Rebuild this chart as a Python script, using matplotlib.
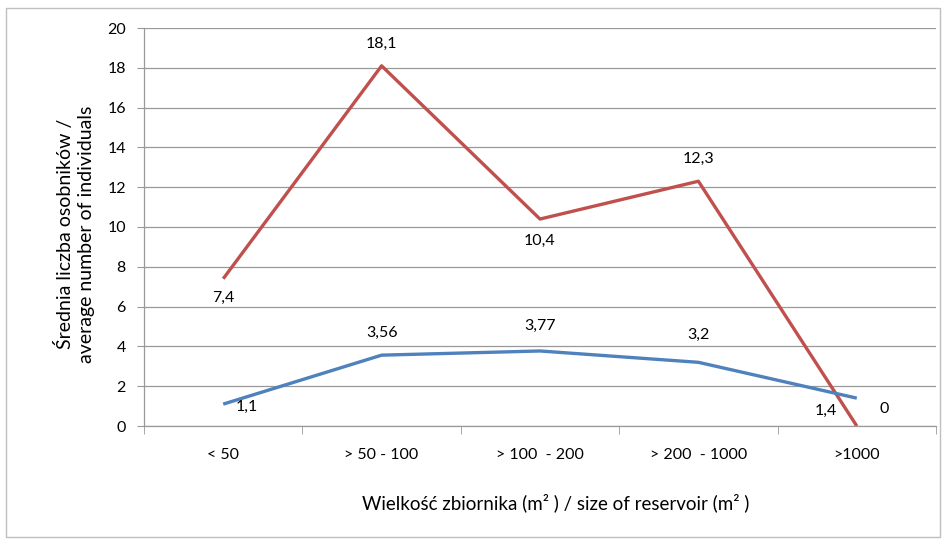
import matplotlib
matplotlib.use("Agg")
import matplotlib.pyplot as plt
from matplotlib.patches import Rectangle
from matplotlib.ticker import FixedLocator

plt.rcParams['font.family'] = ['Lato', 'DejaVu Sans']

categories = ["< 50", "> 50 - 100", "> 100  - 200", "> 200  - 1000", ">1000"]
red_values = [7.4, 18.1, 10.4, 12.3, 0]
blue_values = [1.1, 3.56, 3.77, 3.2, 1.4]
red_labels = ["7,4", "18,1", "10,4", "12,3", "0"]
blue_labels = ["1,1", "3,56", "3,77", "3,2", "1,4"]
yticks = [0, 2, 4, 6, 8, 10, 12, 14, 16, 18, 20]

fig = plt.figure(figsize=(9.47, 5.43), dpi=100)
fig.patches.append(Rectangle((6/947, 6/543), 934/947, 529/543, transform=fig.transFigure,
                             fill=False, edgecolor='#bfbfbf', linewidth=1.0))
ax = fig.add_axes([144/947, (543-426)/543, (936-144)/947, (426-28)/543])

x = list(range(len(categories)))
red = '#C0504D'
blue = '#4F81BD'
ax.plot(x, red_values, color=red, linewidth=2.4, solid_capstyle='butt', zorder=3)
ax.plot(x, blue_values, color=blue, linewidth=2.4, solid_capstyle='butt', zorder=3)

ax.set_xlim(-0.5, 4.5)
ax.set_ylim(0, 20)
ax.set_yticks(yticks)
ax.set_yticklabels([str(v) for v in yticks], fontsize=11.5)
ax.yaxis.grid(True, color='#999999', linewidth=0.9)
ax.set_axisbelow(True)
ax.tick_params(axis='y', length=5, color='#999999', pad=8)

ax.set_xticks(x)
ax.set_xticklabels(categories, fontsize=11.5)
ax.tick_params(axis='x', which='major', length=0, pad=16)
ax.xaxis.set_minor_locator(FixedLocator([-0.5, 0.5, 1.5, 2.5, 3.5, 4.5]))
ax.tick_params(axis='x', which='minor', length=6, color='#999999')

for s in ['top', 'right']:
    ax.spines[s].set_visible(False)
for s in ['left', 'bottom']:
    ax.spines[s].set_color('#999999')
    ax.spines[s].set_linewidth(0.9)

red_off = [(0, -14), (0, 16), (0, -16), (0, 16), (20, 12)]
blue_off = [(17, -2), (0, 16), (0, 18), (0, 20), (-22, -9)]
for i in x:
    ax.annotate(red_labels[i], (i, red_values[i]), xytext=red_off[i], textcoords='offset points',
                ha='center', va='center', fontsize=11.5, annotation_clip=False)
    ax.annotate(blue_labels[i], (i, blue_values[i]), xytext=blue_off[i], textcoords='offset points',
                ha='center', va='center', fontsize=11.5, annotation_clip=False)

fig.text(556/947, 1 - 503/543, "Wielkość zbiornika (m² ) / size of reservoir (m² )",
         ha='center', va='center', fontsize=13.5)
fig.text(75/947, 1 - 234/543, "Średnia liczba osobników /\naverage number of individuals",
         ha='center', va='center', rotation=90, fontsize=14, linespacing=1.35)

fig.savefig("out.png", dpi=100)
